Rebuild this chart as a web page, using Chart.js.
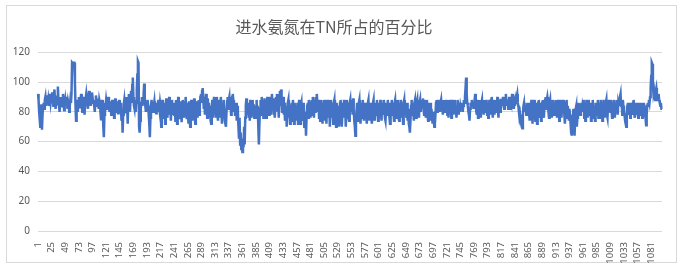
<!DOCTYPE html>
<html lang="zh">
<head>
  <meta charset="UTF-8">
  <title>进水氨氮在TN所占的百分比</title>
  <script src="https://cdn.jsdelivr.net/npm/chart.js"></script>
  <style>
    body {
      margin: 0;
      background: #ffffff;
    }
    #wrap {
      position: relative;
      width: 683px;
      height: 274px;
    }
  </style>
</head>
<body>
  <div id="wrap"><canvas id="chart" width="683" height="274"></canvas></div>

  <script>
    // percentage values, 24 samples per row (one label step)
    const ratio = [
      92, 88, 80, 75, 70, 72, 85, 68, 78, 84, 86, 82, 88, 90, 84, 87, 91, 85, 88, 84, 92, 89, 86, 90,
      86, 93, 88, 84, 90, 95, 87, 82, 89, 91, 85, 97, 88, 84, 80, 86, 90, 85, 83, 88, 92, 86, 81, 85,
      88, 84, 90, 86, 82, 87, 85, 80, 84, 88, 86, 92, 113, 113, 112, 113, 113, 100, 85, 74, 82, 88, 80, 86,
      90, 86, 83, 88, 92, 85, 80, 87, 90, 84, 78, 86, 89, 92, 88, 85, 82, 90, 94, 88, 86, 84, 89, 93,
      90, 86, 88, 84, 80, 86, 91, 87, 84, 89, 85, 82, 88, 86, 80, 75, 84, 88, 82, 70, 63, 78, 86, 84,
      88, 85, 82, 86, 90, 84, 80, 87, 83, 78, 85, 88, 82, 86, 76, 84, 89, 85, 80, 83, 87, 79, 84, 88,
      84, 80, 86, 74, 82, 66, 78, 85, 88, 83, 79, 86, 90, 84, 72, 88, 92, 85, 80, 89, 94, 86, 98, 103,
      90, 84, 82, 88, 80, 86, 95, 105, 114, 113, 70, 66, 74, 82, 86, 90, 84, 88, 92, 99, 90, 84, 80, 86,
      82, 88, 84, 78, 72, 63, 76, 84, 88, 82, 86, 80, 84, 87, 82, 85, 79, 86, 83, 80, 88, 84, 81, 86,
      83, 70, 78, 88, 80, 86, 76, 84, 72, 83, 89, 79, 76, 87, 82, 90, 78, 84, 74, 83, 88, 78, 82, 86,
      78, 86, 74, 88, 82, 72, 84, 90, 78, 83, 75, 87, 82, 73, 86, 88, 78, 76, 87, 80, 90, 79, 75, 86,
      82, 72, 87, 78, 70, 83, 88, 78, 74, 86, 82, 89, 78, 72, 86, 80, 87, 76, 83, 88, 78, 84, 90, 92,
      86, 94, 96, 90, 82, 88, 78, 86, 92, 82, 76, 89, 80, 86, 76, 84, 74, 72, 82, 88, 76, 84, 90, 80,
      87, 76, 84, 90, 78, 74, 88, 82, 76, 87, 90, 80, 72, 86, 78, 88, 80, 74, 72, 70, 80, 87, 90, 82,
      88, 90, 82, 89, 78, 86, 90, 92, 88, 80, 86, 78, 82, 86, 74, 84, 80, 70, 62, 76, 58, 66, 55, 60,
      53, 62, 56, 70, 58, 76, 84, 89, 84, 78, 86, 76, 84, 74, 88, 80, 76, 86, 88, 78, 85, 76, 84, 80,
      80, 88, 76, 84, 70, 58, 72, 82, 88, 78, 90, 80, 86, 76, 84, 89, 78, 87, 76, 84, 90, 80, 88, 78,
      86, 90, 78, 88, 92, 82, 89, 78, 87, 76, 84, 90, 86, 92, 80, 88, 76, 86, 94, 84, 95, 90, 80, 86,
      90, 78, 86, 74, 76, 84, 70, 78, 86, 88, 76, 84, 72, 76, 84, 86, 74, 88, 80, 72, 86, 78, 74, 84,
      78, 86, 72, 84, 88, 76, 72, 84, 86, 76, 74, 86, 80, 70, 72, 80, 64, 76, 84, 86, 76, 88, 80, 86,
      76, 86, 88, 78, 90, 84, 76, 88, 80, 90, 86, 92, 86, 80, 88, 76, 84, 74, 88, 80, 86, 72, 82, 88,
      84, 74, 88, 80, 72, 86, 76, 88, 80, 86, 70, 82, 88, 76, 86, 80, 72, 86, 88, 76, 82, 70, 86, 78,
      84, 74, 70, 80, 86, 88, 76, 70, 78, 86, 80, 88, 76, 86, 70, 78, 88, 80, 86, 76, 74, 86, 88, 80,
      86, 88, 78, 89, 82, 74, 70, 64, 72, 80, 86, 80, 74, 86, 88, 78, 72, 82, 86, 76, 88, 80, 74, 86,
      78, 86, 80, 72, 78, 86, 88, 78, 74, 86, 82, 76, 72, 82, 86, 88, 76, 74, 82, 86, 78, 88, 80, 74,
      82, 86, 76, 88, 80, 74, 86, 78, 82, 88, 84, 76, 74, 82, 86, 78, 88, 80, 86, 76, 72, 86, 80, 88,
      78, 86, 80, 74, 86, 88, 80, 76, 86, 80, 88, 76, 74, 86, 80, 88, 84, 76, 82, 72, 86, 88, 78, 86,
      80, 76, 86, 74, 82, 72, 70, 66, 74, 84, 88, 78, 86, 80, 74, 86, 88, 80, 76, 86, 88, 78, 86, 76,
      86, 88, 80, 86, 88, 84, 89, 82, 78, 88, 84, 76, 86, 88, 78, 74, 86, 80, 76, 86, 74, 82, 76, 72,
      80, 74, 70, 72, 78, 86, 88, 80, 88, 86, 82, 88, 80, 86, 88, 82, 86, 78, 84, 88, 86, 80, 82, 88,
      84, 78, 88, 76, 86, 80, 88, 84, 76, 82, 88, 84, 78, 86, 88, 80, 84, 76, 82, 88, 84, 78, 86, 80,
      84, 82, 86, 84, 80, 84, 88, 86, 90, 96, 103, 92, 86, 84, 80, 78, 74, 82, 86, 84, 88, 84, 86, 82,
      86, 88, 92, 84, 80, 78, 88, 76, 86, 82, 88, 84, 76, 86, 88, 80, 86, 78, 84, 88, 80, 84, 88, 78,
      86, 76, 82, 88, 84, 78, 88, 90, 82, 76, 88, 84, 78, 86, 88, 80, 84, 90, 82, 76, 88, 84, 80, 88,
      88, 84, 86, 90, 84, 82, 88, 86, 92, 86, 84, 88, 82, 86, 90, 84, 82, 88, 86, 92, 86, 84, 82, 86,
      84, 88, 86, 90, 92, 86, 84, 80, 76, 78, 74, 72, 70, 69, 78, 84, 86, 80, 82, 84, 78, 82, 86, 80,
      86, 78, 74, 86, 80, 88, 78, 72, 86, 82, 88, 78, 74, 86, 82, 72, 78, 86, 88, 80, 76, 86, 74, 82,
      86, 88, 80, 76, 86, 88, 90, 82, 88, 90, 86, 80, 76, 86, 88, 80, 86, 76, 82, 88, 84, 78, 86, 80,
      88, 84, 76, 82, 88, 84, 74, 80, 88, 84, 76, 86, 80, 88, 84, 78, 72, 82, 86, 88, 76, 84, 80, 74,
      82, 78, 72, 66, 64, 70, 76, 82, 68, 64, 74, 82, 84, 70, 76, 82, 86, 80, 84, 78, 82, 86, 80, 84,
      82, 88, 76, 86, 74, 82, 88, 84, 76, 82, 88, 78, 86, 82, 74, 86, 80, 88, 76, 84, 82, 74, 86, 78,
      86, 80, 88, 76, 82, 86, 76, 88, 80, 86, 74, 82, 88, 84, 76, 82, 86, 88, 78, 76, 86, 80, 88, 84,
      80, 88, 84, 76, 86, 80, 88, 84, 76, 86, 80, 88, 84, 78, 86, 84, 88, 90, 92, 84, 86, 78, 88, 84,
      80, 78, 74, 72, 70, 78, 84, 86, 78, 82, 86, 76, 82, 86, 78, 82, 86, 88, 80, 76, 86, 82, 78, 86,
      80, 76, 86, 82, 86, 78, 82, 86, 76, 86, 82, 86, 84, 78, 76, 71, 78, 84, 86, 84, 88, 86, 90, 96,
      104, 113, 112, 98, 92, 94, 90, 88, 94, 96, 92, 90, 88, 92, 88, 86, 84, 86, 82, 82
    ];
    // category labels: sample numbers 1..N
    const days = ratio.map((v, i) => String(i + 1));
    const yTicks = [0, 20, 40, 60, 80, 100, 120];
    const labelStep = 24;

    const frame = {
      id: 'frame',
      beforeDraw(chart) {
        const c = chart.ctx;
        c.save();
        c.fillStyle = '#ffffff';
        c.fillRect(0, 0, chart.width, chart.height);
        c.strokeStyle = '#d9d9d9';
        c.lineWidth = 1;
        c.strokeRect(6.5, 5.5, 670, 257);
        c.restore();
      }
    };

    new Chart(document.getElementById('chart'), {
      type: 'line',
      data: {
        labels: days,
        datasets: [{
          label: '进水氨氮在TN所占的百分比',
          data: ratio,
          borderColor: '#4472c4',
          borderWidth: 2.5,
          pointRadius: 0,
          tension: 0,
          fill: false
        }]
      },
      options: {
        responsive: false,
        animation: false,
        layout: { padding: { left: 6, right: 21, top: 6, bottom: 11 } },
        plugins: {
          legend: { display: false },
          tooltip: { enabled: false },
          title: {
            display: true,
            text: '进水氨氮在TN所占的百分比',
            color: '#595959',
            font: { family: "'Noto Sans CJK SC', sans-serif", size: 16, weight: 'normal' },
            padding: { top: 11, bottom: 16 }
          }
        },
        scales: {
          x: {
            grid: { display: false },
            border: { display: false },
            afterBuildTicks(scale) {
              scale.ticks = scale.ticks.filter(t => t.value % labelStep === 0);
            },
            afterFit(scale) { scale.height = 32; },
            ticks: {
              autoSkip: false,
              minRotation: 90,
              maxRotation: 90,
              padding: 3,
              color: '#595959',
              font: { family: "'Noto Sans', sans-serif", size: 9.5 }
            }
          },
          y: {
            min: 0,
            max: 120,
            afterBuildTicks(scale) {
              scale.ticks = yTicks.map(v => ({ value: v }));
            },
            afterFit(scale) { scale.width = 32; },
            grid: { color: '#d9d9d9', drawTicks: false },
            border: { display: false },
            ticks: {
              padding: 8,
              color: '#595959',
              font: { family: "'Noto Sans', sans-serif", size: 10 }
            }
          }
        }
      },
      plugins: [frame]
    });
  </script>
</body>
</html>
